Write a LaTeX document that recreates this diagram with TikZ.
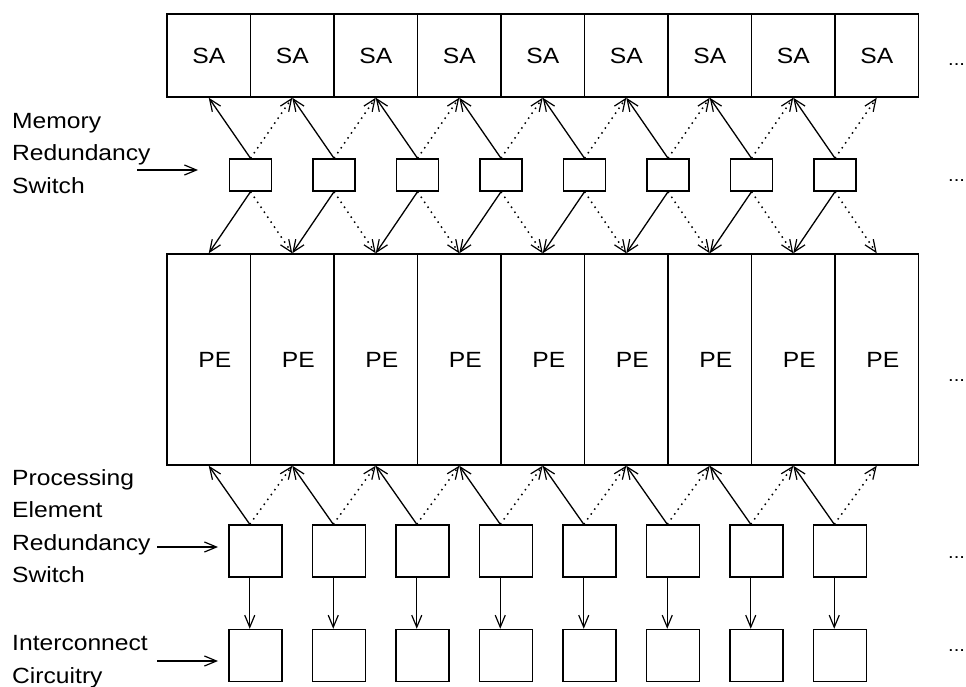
\documentclass[tikz,border=0pt]{standalone}
\usepackage{fontspec}
\setmainfont[FakeStretch=1.12]{Liberation Sans}
\usetikzlibrary{arrows.meta,calc}
\begin{document}
\begin{tikzpicture}[x=1pt,y=-1pt,
  bx/.style={draw,line width=1.5pt,inner sep=0pt,font=\fontsize{22}{26}\selectfont},
  sabox/.style={bx,minimum width=83.5pt,minimum height=83pt},
  pebox/.style={bx,minimum width=83.5pt,minimum height=211pt},
  msw/.style={bx,minimum width=42pt,minimum height=32pt},
  psw/.style={bx,minimum width=53pt,minimum height=52pt},
  lbl/.style={anchor=base west,inner sep=0pt,font=\fontsize{22}{26}\selectfont},
  dots/.style={anchor=base west,inner sep=0pt,font=\fontsize{18}{20}\selectfont},
  sol/.style={line width=1.3pt,-{Straight Barb[length=12pt,width=10pt,line width=1.2pt]}},
  dot/.style={line width=1.5pt,dash pattern=on 1.5pt off 4.5pt,-{Straight Barb[length=12pt,width=10pt,line width=1.2pt]}}
]
\useasboundingbox (0,0) rectangle (966,686);
% SA and PE rows
\foreach \i in {0,...,8}{
  \node[sabox] (sa\i) at ({208.75+83.5*\i},55.5) {SA\hspace{8pt}};
  \node[pebox] (pe\i) at ({208.75+83.5*\i},359.5) {\hspace{12pt}PE};
}
% switches and interconnect
\foreach \j in {0,...,7}{
  \node[msw] (ms\j) at ({250.5+83.5*\j},175) {};
  \node[psw] (ps\j) at ({255.5+83.5*\j},551) {};
  \node[psw] (ic\j) at ({255.5+83.5*\j},655.5) {};
}
% arrows
\foreach \j [count=\k] in {0,...,7}{
  \draw[sol] (ms\j.north) -- (sa\j.south);
  \draw[dot] (ms\j.north) -- (sa\k.south);
  \draw[sol] (ms\j.south) -- (pe\j.north);
  \draw[dot] (ms\j.south) -- (pe\k.north);
  \coordinate (pt\j) at ($(ps\j.north west)+(21.5,0)$);
  \coordinate (pb\j) at ($(ps\j.south west)+(21.5,0)$);
  \coordinate (it\j) at ($(ic\j.north west)+(21.5,0)$);
  \draw[sol] (pt\j) -- (pe\j.south);
  \draw[dot] (pt\j) -- (pe\k.south);
  \draw[sol] (pb\j) -- (it\j);
}
% ellipses
\node[dots] (e1) at (948,65) {...};
\node[dots] (e2) at (948,181) {...};
\node[dots] (e3) at (948,381) {...};
\node[dots] (e4) at (948,558) {...};
\node[dots] (e5) at (948,651) {...};
% left labels
\node[lbl] (m1) at (12,128) {Memory};
\node[lbl] (m2) at (12,160.5) {Redundancy};
\node[lbl] (m3) at (12,193) {Switch};
\node[lbl] (p1) at (12,485) {Processing};
\node[lbl] (p2) at (12,517) {Element};
\node[lbl] (p3) at (12,550) {Redundancy};
\node[lbl] (p4) at (12,582) {Switch};
\node[lbl] (i1) at (12,650) {Interconnect};
\node[lbl] (i2) at (12,683) {Circuitry};
\coordinate (ma) at (137,170);
\coordinate (mb) at (198,170);
\coordinate (pa) at (157,547);
\coordinate (pbb) at (218,547);
\coordinate (ia) at (157,661);
\coordinate (ib) at (218,661);
\draw[sol] (ma) -- (mb);
\draw[sol] (pa) -- (pbb);
\draw[sol] (ia) -- (ib);
\end{tikzpicture}
\end{document}
